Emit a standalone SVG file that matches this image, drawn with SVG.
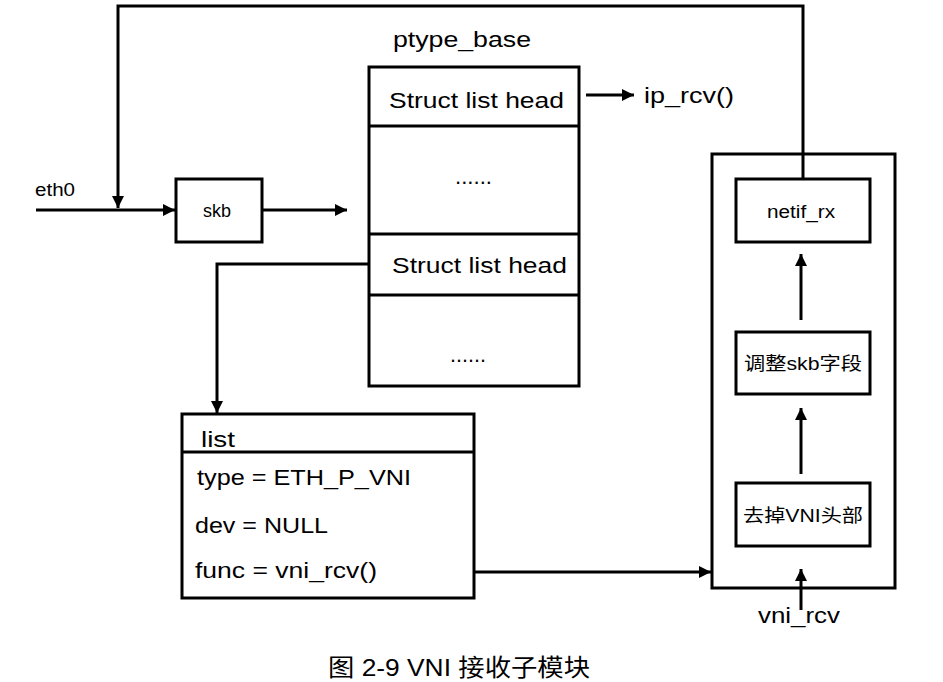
<svg xmlns="http://www.w3.org/2000/svg" width="943" height="682" viewBox="0 0 943 682">
<style>
.box{fill:#fff;stroke:#000;stroke-width:3}
.ln{fill:none;stroke:#000;stroke-width:3}
.t{font-family:"Liberation Sans","Noto Sans CJK SC",sans-serif;fill:#000}
</style>
<defs>
<marker id="ah" viewBox="0 0 10 10" refX="10" refY="5" markerWidth="4" markerHeight="4" orient="auto" markerUnits="strokeWidth">
<path d="M0,0 L10,5 L0,10 Z" fill="#000"/>
</marker>
</defs>
<rect width="943" height="682" fill="#fff"/>
<g id="eth0"><text class="t" x="35" y="196" font-size="18" textLength="40" lengthAdjust="spacingAndGlyphs">eth0</text></g>
<g id="skb">
<rect class="box" x="176" y="179" width="86" height="63"/>
<text class="t" x="217" y="217" font-size="18" text-anchor="middle">skb</text>
</g>
<g id="ptype_base">
<text class="t" x="393" y="47" font-size="22" textLength="138" lengthAdjust="spacingAndGlyphs">ptype_base</text>
<rect class="box" x="369" y="67" width="210" height="319"/>
<line class="ln" x1="369" y1="126" x2="579" y2="126"/>
<line class="ln" x1="369" y1="234" x2="579" y2="234"/>
<line class="ln" x1="369" y1="295" x2="579" y2="295"/>
<text class="t" x="389" y="108" font-size="22" textLength="175" lengthAdjust="spacingAndGlyphs">Struct list head</text>
<text class="t" x="455" y="184" font-size="22" textLength="37" lengthAdjust="spacingAndGlyphs">......</text>
<text class="t" x="392" y="273" font-size="22" textLength="175" lengthAdjust="spacingAndGlyphs">Struct list head</text>
<text class="t" x="450" y="362" font-size="22" textLength="36" lengthAdjust="spacingAndGlyphs">......</text>
</g>
<g id="ip_rcv"><text class="t" x="644" y="103" font-size="22" textLength="90" lengthAdjust="spacingAndGlyphs">ip_rcv()</text></g>
<g id="list">
<rect class="box" x="182" y="414" width="292" height="184"/>
<line class="ln" x1="182" y1="452" x2="474" y2="452"/>
<text class="t" x="201" y="447" font-size="22" textLength="34" lengthAdjust="spacingAndGlyphs">list</text>
<text class="t" x="197" y="485" font-size="22" textLength="214" lengthAdjust="spacingAndGlyphs">type = ETH_P_VNI</text>
<text class="t" x="195" y="533" font-size="22" textLength="133" lengthAdjust="spacingAndGlyphs">dev = NULL</text>
<text class="t" x="195" y="578" font-size="22" textLength="182" lengthAdjust="spacingAndGlyphs">func = vni_rcv()</text>
</g>
<g id="vni_module">
<rect class="box" x="712" y="154" width="183" height="434"/>
</g>
<g id="netif_rx">
<rect class="box" x="736" y="179" width="134" height="63"/>
<text class="t" x="801" y="218" font-size="18" text-anchor="middle" textLength="68" lengthAdjust="spacingAndGlyphs">netif_rx</text>
</g>
<g id="adjust_skb">
<rect class="box" x="736" y="332" width="134" height="62"/>
<text class="t" x="803" y="370" font-size="18" text-anchor="middle" textLength="118" lengthAdjust="spacingAndGlyphs">调整skb字段</text>
</g>
<g id="strip_vni">
<rect class="box" x="736" y="483" width="134" height="63"/>
<text class="t" x="803" y="522" font-size="18" text-anchor="middle" textLength="120" lengthAdjust="spacingAndGlyphs">去掉VNI头部</text>
</g>
<g id="vni_rcv"><text class="t" x="799" y="623" font-size="22" text-anchor="middle" textLength="82" lengthAdjust="spacingAndGlyphs">vni_rcv</text></g>
<g id="caption"><text class="t" x="459" y="676" font-size="24" text-anchor="middle" textLength="262" lengthAdjust="spacingAndGlyphs">图 2-9 VNI 接收子模块</text></g>
<g id="connectors">
<polyline class="ln" points="803,179 803,6 118,6 118,208" marker-end="url(#ah)"/>
<line class="ln" x1="36" y1="210" x2="175" y2="210" marker-end="url(#ah)"/>
<line class="ln" x1="262" y1="210" x2="347" y2="210" marker-end="url(#ah)"/>
<line class="ln" x1="586" y1="95" x2="634" y2="95" marker-end="url(#ah)"/>
<polyline class="ln" points="369,264 217,264 217,413" marker-end="url(#ah)"/>
<line class="ln" x1="474" y1="572" x2="711" y2="572" marker-end="url(#ah)"/>
<line class="ln" x1="801" y1="320" x2="801" y2="254" marker-end="url(#ah)"/>
<line class="ln" x1="801" y1="474" x2="801" y2="408" marker-end="url(#ah)"/>
<line class="ln" x1="801" y1="610" x2="801" y2="569" marker-end="url(#ah)"/>
</g>
</svg>
